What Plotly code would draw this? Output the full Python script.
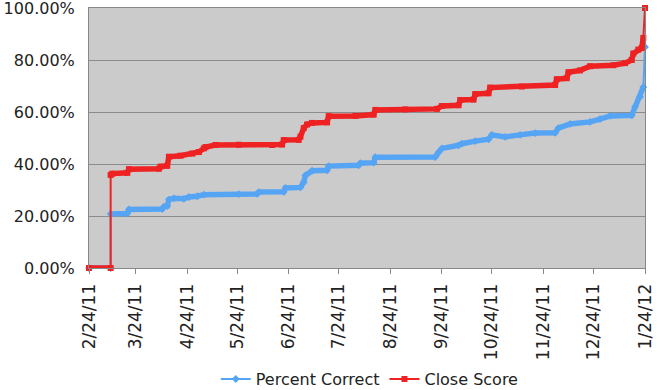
import plotly.graph_objects as go

# Close Score (red)
close_dates = ["2011-02-24", "2011-03-09", "2011-03-09", "2011-03-10", "2011-03-19", "2011-03-20",
               "2011-04-07", "2011-04-08", "2011-04-12", "2011-04-13", "2011-04-20", "2011-04-27",
               "2011-05-01", "2011-05-04", "2011-05-05", "2011-05-11", "2011-05-25", "2011-06-14",
               "2011-06-20", "2011-06-21", "2011-06-30", "2011-07-01", "2011-07-03", "2011-07-05",
               "2011-07-08", "2011-07-17", "2011-07-18", "2011-08-03", "2011-08-14", "2011-08-15",
               "2011-09-02", "2011-09-21", "2011-09-24", "2011-10-04", "2011-10-05", "2011-10-13",
               "2011-10-14", "2011-10-22", "2011-10-23", "2011-11-11", "2011-12-01", "2011-12-02",
               "2011-12-08", "2011-12-09", "2011-12-16", "2011-12-22", "2012-01-05", "2012-01-12",
               "2012-01-16", "2012-01-17", "2012-01-20", "2012-01-22", "2012-01-23", "2012-01-24"]
close_vals = [0, 0, 35.8, 36.3, 36.6, 38.0,
              38.2, 39.0, 39.3, 42.8, 43.2, 44.0,
              44.6, 46.0, 46.5, 47.3, 47.4, 47.3,
              47.5, 49.2, 49.3, 50.5, 53.8, 55.2,
              55.8, 56.0, 58.4, 58.5, 59.0, 60.8,
              61.0, 61.2, 62.3, 62.6, 64.6, 64.8,
              66.9, 67.2, 69.4, 69.8, 70.4, 72.6,
              73.0, 75.3, 76.0, 77.6, 78.0, 78.8,
              80.0, 82.5, 84.0, 84.6, 88.5, 100.0]

# Percent Correct (blue)
correct_dates = ["2011-02-24", "2011-03-09", "2011-03-09", "2011-03-19", "2011-03-20", "2011-04-09",
                 "2011-04-10", "2011-04-12", "2011-04-13", "2011-04-16", "2011-04-22", "2011-04-25",
                 "2011-04-30", "2011-05-04", "2011-05-25", "2011-06-05", "2011-06-06", "2011-06-21",
                 "2011-06-22", "2011-07-01", "2011-07-03", "2011-07-04", "2011-07-08", "2011-07-17",
                 "2011-07-18", "2011-08-05", "2011-08-06", "2011-08-14", "2011-08-15", "2011-09-20",
                 "2011-09-22", "2011-09-24", "2011-10-04", "2011-10-06", "2011-10-14", "2011-10-22",
                 "2011-10-24", "2011-11-01", "2011-11-10", "2011-11-19", "2011-12-01", "2011-12-03",
                 "2011-12-10", "2011-12-22", "2011-12-28", "2012-01-03", "2012-01-16", "2012-01-18",
                 "2012-01-21", "2012-01-23", "2012-01-24"]
correct_vals = [0, 0, 20.8, 21.0, 22.5, 22.7,
                23.6, 23.8, 26.3, 26.8, 26.6, 27.3,
                27.6, 28.2, 28.4, 28.5, 29.2, 29.3,
                30.8, 31.0, 33.0, 35.6, 37.4, 37.6,
                39.2, 39.5, 40.3, 40.5, 42.6, 42.7,
                44.5, 46.0, 47.2, 47.8, 48.8, 49.5,
                51.2, 50.4, 51.2, 51.9, 52.0, 53.8,
                55.4, 56.2, 57.3, 58.5, 58.7, 62.0,
                65.8, 69.6, 85.0]

tick_dates = ["2011-02-24", "2011-03-24", "2011-04-24", "2011-05-24", "2011-06-24", "2011-07-24",
              "2011-08-24", "2011-09-24", "2011-10-24", "2011-11-24", "2011-12-24", "2012-01-24"]
y_ticks = [0, 20, 40, 60, 80, 100]

RED = "#ee2222"
BLUE = "#56a5f5"


def body(dates, vals, thr=4.0):
    xs, ys = [dates[0]], [vals[0]]
    for i in range(1, len(vals)):
        if abs(vals[i] - vals[i - 1]) > thr:
            xs.append(None)
            ys.append(None)
        xs.append(dates[i])
        ys.append(vals[i])
    return xs, ys


fig = go.Figure()

series = [("Percent Correct", correct_dates, correct_vals, BLUE, "diamond", 6),
          ("Close Score", close_dates, close_vals, RED, "square", 6)]

for name, d, v, col, sym, ms in series:
    fig.add_trace(go.Scatter(x=d, y=v, name=name, mode="lines+markers",
                             line=dict(color=col, width=2),
                             marker=dict(symbol=sym, size=ms, color=col),
                             cliponaxis=False, hoverinfo="skip"))
    bx, by = body(d, v)
    fig.add_trace(go.Scatter(x=bx, y=by, mode="lines", showlegend=False,
                             line=dict(color=col, width=5.5),
                             connectgaps=False, cliponaxis=False, hoverinfo="skip"))

fig.update_layout(
    width=660, height=390,
    margin=dict(l=89, r=15, t=8, b=122, autoexpand=False),
    paper_bgcolor="white",
    plot_bgcolor="#cbcbcb",
    font=dict(family="DejaVu Sans", size=16, color="#222222"),
    showlegend=True,
    legend=dict(orientation="h", x=0.505, xanchor="center", y=-0.362, yanchor="top",
                font=dict(size=16), itemwidth=30, bgcolor="rgba(0,0,0,0)"),
)

fig.update_xaxes(
    type="date",
    range=["2011-02-24", "2012-01-24"],
    tickvals=tick_dates,
    tickformat="%-m/%-d/%y",
    tickangle=-90,
    tickfont=dict(size=17),
    ticks="outside", ticklen=5, tickcolor="#888888",
    showgrid=False, zeroline=False,
    showline=True, linecolor="#888888", linewidth=1, mirror=True,
    ticklabelstandoff=3,
    automargin=False,
    ticklabeloverflow="allow",
)

fig.update_yaxes(
    range=[0, 100],
    tickvals=y_ticks,
    ticktext=[f"{t:.2f}%" for t in y_ticks],
    showgrid=True, gridcolor="#8c8c8c", gridwidth=1,
    zeroline=False,
    showline=True, linecolor="#888888", linewidth=1, mirror=True,
    ticks="", ticklabelstandoff=10,
    automargin=False,
    ticklabeloverflow="allow",
)

fig.write_html("out.html", config={"displayModeBar": False},
               post_script="document.body.style.margin='0px';")
